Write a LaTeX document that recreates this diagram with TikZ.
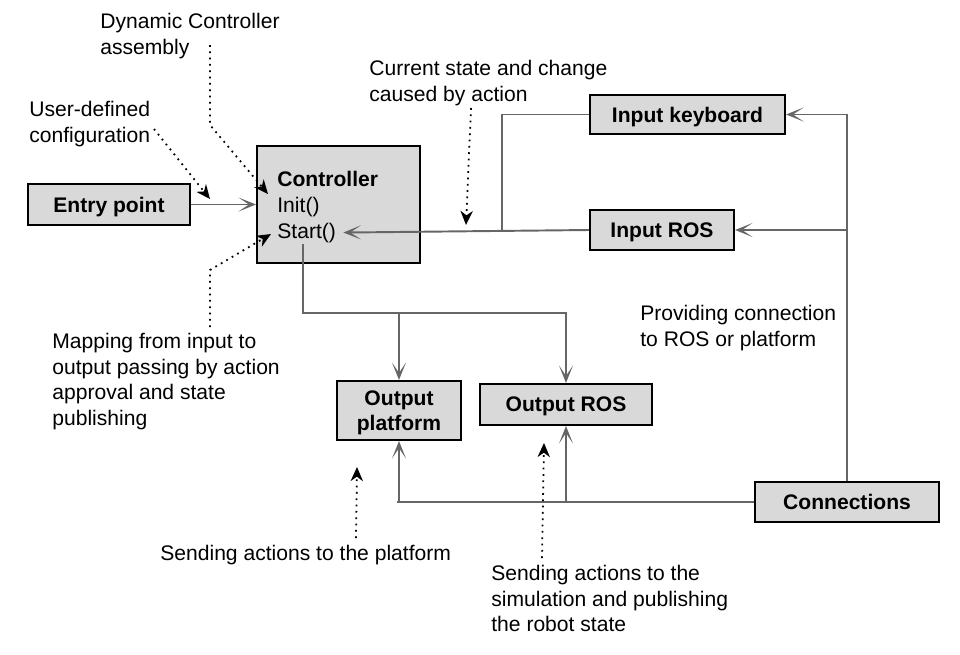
\documentclass[tikz,border=0pt]{standalone}
\usepackage{fontspec}
\setmainfont{Liberation Sans}
\usetikzlibrary{arrows.meta}
\definecolor{boxfill}{HTML}{D9D9D9}
\definecolor{linegray}{HTML}{666666}
\tikzstyle{block} = [rectangle, draw=black, line width=1.2pt, fill=boxfill, align=center, text depth=0pt, font=\fontsize{12}{14.5}\selectfont\bfseries]
\tikzstyle{ctrltext} = [anchor=base west, inner xsep=4pt, inner ysep=1pt]
\tikzstyle{note} = [anchor=north west, inner sep=0pt, align=left]
\tikzstyle{arrow} = [draw=linegray, line width=1.1pt, -{Stealth[length=10pt, width=8pt, inset=6pt]}]
\tikzstyle{wire} = [draw=linegray, line width=1.1pt]
\tikzstyle{hint} = [draw=black, line width=1pt, dash pattern=on 1pt off 2.6pt, -{Stealth[length=8pt, width=7pt, inset=2.5pt]}]
\begin{document}
\begin{tikzpicture}[x=0.02cm, y=-0.02cm, font=\fontsize{12}{14.5}\selectfont]
	\useasboundingbox (0,0) rectangle (960,654);
	\node (entry) [block, minimum width=3.24cm, minimum height=0.82cm] at (109,204.5) {Entry point};
	\node (ctrl) [block, minimum width=3.26cm, minimum height=2.34cm] at (338.5,204.5) {};
	\node (ctrlname) [ctrltext] at (270,186) {\bfseries Controller};
	\node (ctrlinit) [ctrltext] at (270,212) {Init()};
	\node (ctrlstart) [ctrltext] at (270,238) {Start()};
	\node (inkey) [block, minimum width=3.9cm, minimum height=0.78cm] at (687.5,114.5) {Input keyboard};
	\node (inros) [block, minimum width=2.88cm, minimum height=0.8cm] at (662,230) {Input ROS};
	\node (outplat) [block, minimum width=2.48cm, minimum height=1.18cm] at (399,410.5) {Output\\platform};
	\node (outros) [block, minimum width=3.44cm, minimum height=0.82cm] at (566,404.5) {Output ROS};
	\node (conn) [block, minimum width=3.68cm, minimum height=0.8cm] at (847,502) {Connections};
	
	\node (dynnote) [note] at (100,13) {Dynamic Controller\\assembly};
	\node (usernote) [note] at (29,101) {User-defined\\configuration};
	\node (statenote) [note] at (369,60) {Current state and change\\caused by action};
	\node (mapnote) [note] at (52,333) {Mapping from input to\\output passing by action\\approval and state\\publishing};
	\node (connnote) [note] at (640,305) {Providing connection\\to ROS or platform};
	\node (platnote) [note] at (160,545) {Sending actions to the platform};
	\node (simnote) [note] at (491,565) {Sending actions to the\\simulation and publishing\\the robot state};
	
	\coordinate (keyjoin) at (502,230.5);
	\coordinate (splitout) at (303,313);
	\coordinate (splitin) at (397,502);
	\draw [arrow] (entry) -- (ctrl);
	\draw [arrow] (inros.west) -- (ctrlstart.east);
	\draw [wire] (inkey.west) -| (keyjoin);
	\draw [arrow] (ctrlstart.south -| splitout) -- (splitout) -| (outros.north);
	\draw [arrow] (splitout -| outplat.north) -- (outplat.north);
	\draw [wire] (conn.west) -- (splitin);
	\draw [arrow] (splitin -| outplat.south) -- (outplat.south);
	\draw [arrow] (splitin -| outros.south) -- (outros.south);
	\draw [arrow] (conn.north) |- (inkey.east);
	\draw [arrow] (conn.north |- inros.east) -- (inros.east);
	
	\coordinate (dynfrom) at (210,45);
	\coordinate (dynbend) at (210,125);
	\coordinate (dyntip) at (268,194);
	\coordinate (userfrom) at (154,129);
	\coordinate (usertip) at (210,199);
	\coordinate (statefrom) at (471,108);
	\coordinate (statetip) at (466,225);
	\coordinate (mapfrom) at (210,327);
	\coordinate (mapbend) at (210,270);
	\coordinate (maptip) at (271,234);
	\coordinate (platfrom) at (356,538);
	\coordinate (plattip) at (357,467);
	\coordinate (simfrom) at (542,558);
	\coordinate (simtip) at (544,443);
	\draw [hint] (dynfrom) -- (dynbend) -- (dyntip);
	\draw [hint] (userfrom) -- (usertip);
	\draw [hint] (statefrom) -- (statetip);
	\draw [hint] (mapfrom) -- (mapbend) -- (maptip);
	\draw [hint] (platfrom) -- (plattip);
	\draw [hint] (simfrom) -- (simtip);
\end{tikzpicture}
\end{document}
